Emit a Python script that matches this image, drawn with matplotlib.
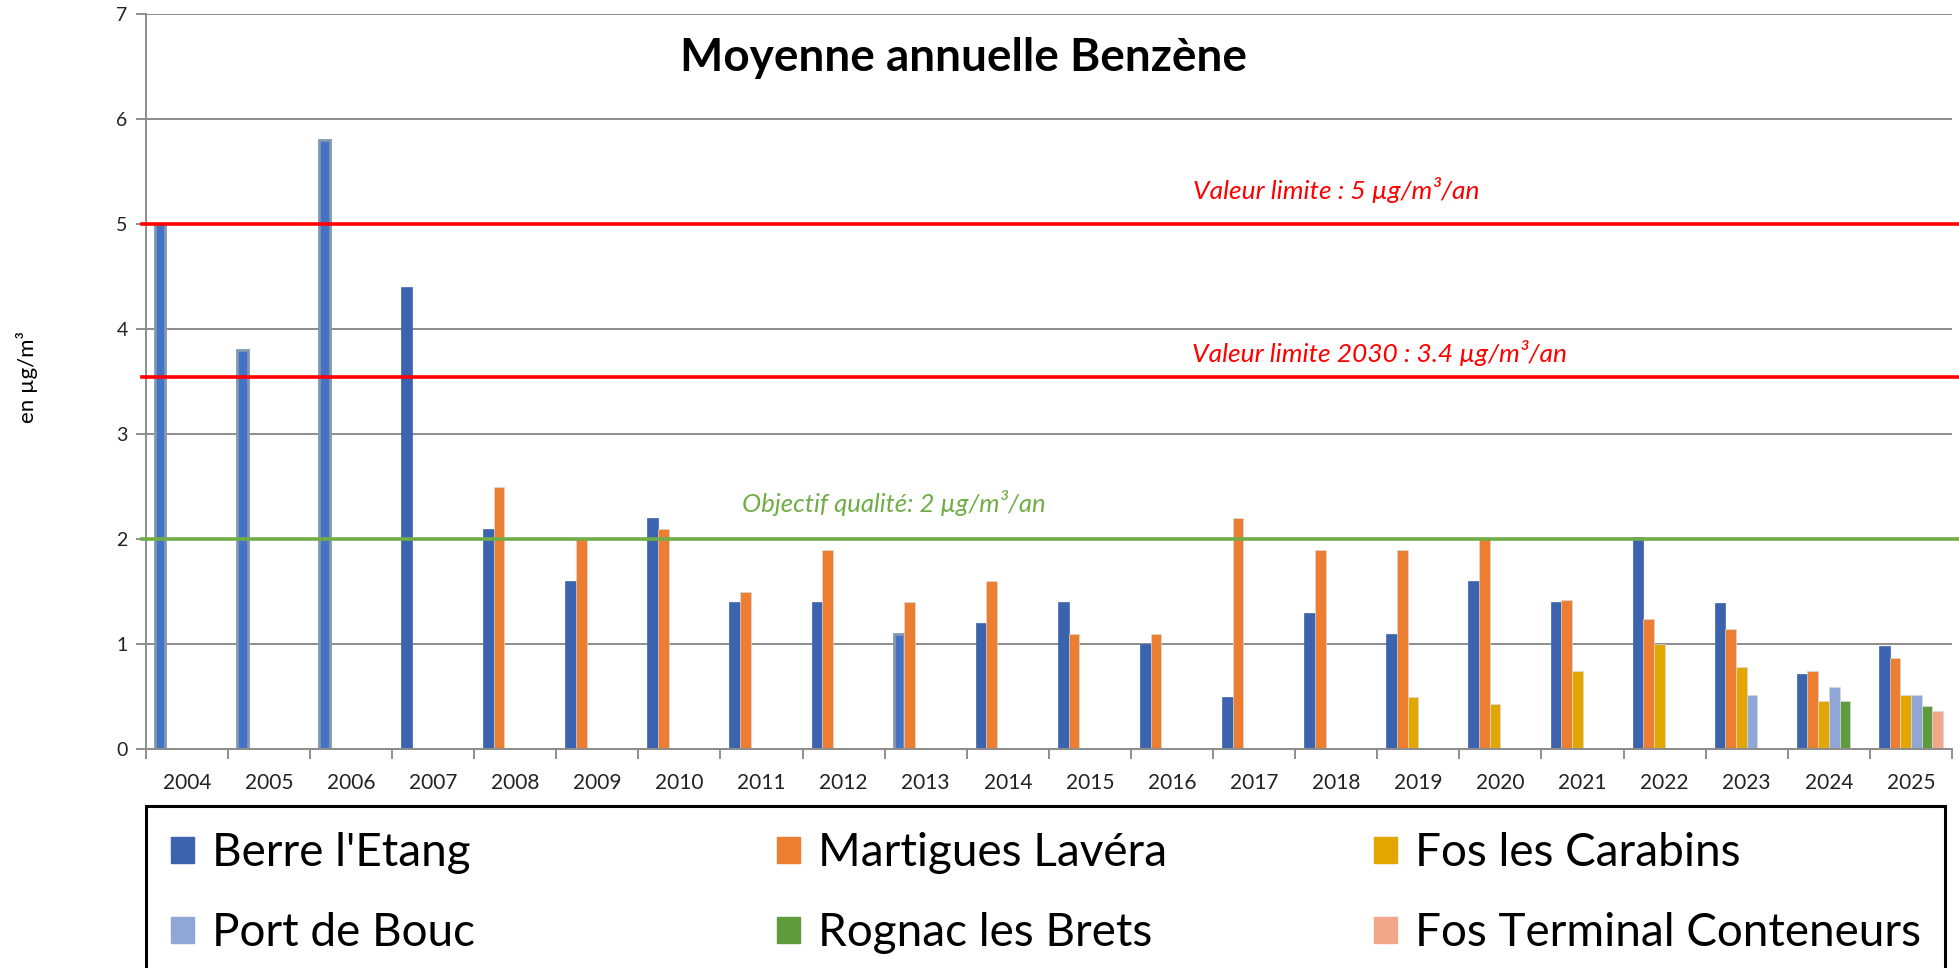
import matplotlib
matplotlib.use('Agg')
import matplotlib.pyplot as plt
import numpy as np
from matplotlib.patches import Patch, Rectangle

plt.rcParams['font.family'] = ['Lato', 'DejaVu Sans']

years = ['2004', '2005', '2006', '2007', '2008', '2009', '2010', '2011', '2012', '2013', '2014',
         '2015', '2016', '2017', '2018', '2019', '2020', '2021', '2022', '2023', '2024', '2025']

stations = ["Berre l'Etang", 'Martigues Lavéra', 'Fos les Carabins',
            'Port de Bouc', 'Rognac les Brets', 'Fos Terminal Conteneurs']

nan = np.nan
berre = [5.0, 3.8, 5.8, 4.4, 2.1, 1.6, 2.2, 1.4, 1.4, 1.1, 1.2, 1.4, 1.0, 0.5, 1.3, 1.1, 1.6, 1.4, 2.02, 1.39, 0.71, 0.98]
martigues = [nan, nan, nan, nan, 2.5, 2.0, 2.1, 1.5, 1.9, 1.4, 1.6, 1.1, 1.1, 2.2, 1.9, 1.9, 2.0, 1.42, 1.24, 1.14, 0.74, 0.87]
carabins = [nan] * 15 + [0.5, 0.43, 0.74, 1.0, 0.78, 0.46, 0.51]
port_de_bouc = [nan] * 19 + [0.51, 0.59, 0.51]
rognac = [nan] * 20 + [0.46, 0.41]
terminal = [nan] * 21 + [0.36]

# years where the Berre bar has a different (lighter) fill in the original
berre_light = ['2004', '2005', '2006', '2013']

series = [berre, martigues, carabins, port_de_bouc, rognac, terminal]
colors = ['#3C64AE', '#ED7D31', '#E2A600', '#8FA6D6', '#5F9A3C', '#F2A78A']

limit_2030_drawn = 3.54  # line sits a bit above 3.4 in the source chart

fig = plt.figure(figsize=(19.59, 9.68), dpi=100)
ax = fig.add_axes([145.7 / 1959, 1 - 749 / 968, (1952 - 145.7) / 1959, (749 - 14) / 968])

x = np.arange(len(years))
w = 0.13
start = (1 - 6 * w) / 2
for i, vals in enumerate(series):
    pos = x - 0.5 + start + (i + 0.5) * w
    if i == 0:
        fc = ['#4472C4' if y in berre_light else colors[0] for y in years]
        ec = ['#8497B0' if y in berre_light else colors[0] for y in years]
        lw = [2.0 if y in berre_light else 0.5 for y in years]
        ax.bar(pos, vals, w, color=fc, edgecolor=ec, linewidth=lw, zorder=2)
    else:
        ax.bar(pos, vals, w, color=colors[i], edgecolor='#d9d9d9', linewidth=0.5, zorder=2)

ax.set_xlim(-0.5, len(years) - 0.5)
ax.set_ylim(0, 7)
ax.set_yticks(range(8))
ax.set_xticks(x)
ax.set_xticklabels(years)
ax.set_xticks(np.arange(len(years) + 1) - 0.5, minor=True)
ax.tick_params(axis='x', which='major', length=0, labelsize=15, pad=17, colors='#222222')
ax.tick_params(axis='x', which='minor', length=7, width=1.3, color='#868686', direction='out')
ax.tick_params(axis='y', length=7, width=1.3, color='#868686', labelsize=14, pad=6, labelcolor='#222222')
ax.grid(axis='y', color='#8c8c8c', linewidth=1.4, zorder=0)
ax.set_axisbelow(True)
for s in ['top', 'right']:
    ax.spines[s].set_visible(False)
for s in ['left', 'bottom']:
    ax.spines[s].set_color('#8c8c8c')
    ax.spines[s].set_linewidth(1.4)

ax.axhline(5, xmin=-0.002, xmax=1.005, color='#FF0000', lw=2.6, zorder=4, clip_on=False)
ax.axhline(limit_2030_drawn, xmin=-0.002, xmax=1.005, color='#FF0000', lw=2.6, zorder=4, clip_on=False)
ax.axhline(2, xmin=-0.002, xmax=1.005, color='#70AD47', lw=2.6, zorder=4, clip_on=False)

# positions in image pixels from the top left
notes = [(1336, 190, 'Valeur limite : 5 µg/m³/an', '#FF0000', 19),
         (1380, 353, 'Valeur limite 2030 : 3.4 µg/m³/an', '#FF0000', 19),
         (894, 503, 'Objectif qualité: 2 µg/m³/an', '#70AD47', 18.5)]
for px, py, txt, col, fs in notes:
    fig.text(px / 1959, 1 - py / 968, txt, color=col, style='italic', fontsize=fs,
             ha='center', va='center')

fig.text(963 / 1959, 1 - 58 / 968, 'Moyenne annuelle Benzène', fontsize=33, fontweight='bold',
         ha='center', va='center')
fig.text(27 / 1959, 1 - 377 / 968, 'en µg/m³', rotation=90, fontsize=16,
         ha='center', va='center')

# legend box
fig.patches.append(Rectangle((146 / 1959, -0.05), (1945 - 146) / 1959, 0.05 + 1 - 806 / 968,
                             transform=fig.transFigure, fill=False, edgecolor='black', linewidth=2.2))
col_x = [171, 777, 1374]
for c in range(3):
    handles = [Patch(facecolor=colors[c], edgecolor=colors[c]),
               Patch(facecolor=colors[c + 3], edgecolor=colors[c + 3])]
    labels = [stations[c], stations[c + 3]]
    fig.legend(handles, labels, loc='upper left', bbox_to_anchor=(col_x[c] / 1959, 1 - 832 / 968),
               frameon=False, fontsize=33, handlelength=0.5, handleheight=0.5, handletextpad=0.4,
               labelspacing=0.83, borderpad=0, borderaxespad=0)

fig.savefig('out.png', dpi=100)
